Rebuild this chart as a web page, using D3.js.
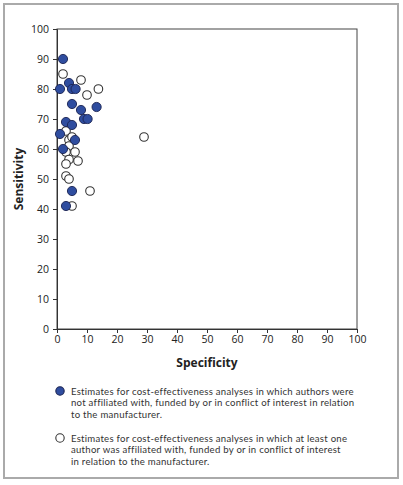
<!DOCTYPE html>
<html><head><meta charset="utf-8">
<script src="https://cdn.jsdelivr.net/npm/d3@7"></script>
<style>body{margin:0;background:#fff;}svg{display:block;font-family:"Open Sans",sans-serif;}</style>
</head><body><svg id="c" width="403" height="485"></svg>
<script>
const xTicks = [0,10,20,30,40,50,60,70,80,90,100];
const yTicks = [0,10,20,30,40,50,60,70,80,90,100];
// Not affiliated (filled)
const filledSpec = [2,1,4,5,6.2,5,8,13.2,9,10.2,3,5,1,6,2,5,3];
const filledSens = [90,80,82,80,80,75,73,74,70,70,69,68,65,63,60,46,41];
// Affiliated (open)
const openSpec = [2,8,13.8,10,29,3,4,5,4,3,6,4,7,3,3,4,11,5];
const openSens = [85,83,80,78,64,66,63,64,61,59,59,56.5,56,55,51,50,46,41];
const legendTexts = [
 ["Estimates for cost-effectiveness analyses in which authors were","not affiliated with, funded by or in conflict of interest in relation","to the manufacturer."],
 ["Estimates for cost-effectiveness analyses in which at least one","author was affiliated with, funded by or in conflict of interest","in relation to the manufacturer."]
];

const svg = d3.select("#c");
svg.append("rect").attr("x",4).attr("y",4).attr("width",394).attr("height",474)
  .attr("fill","none").attr("stroke","#aaa").attr("stroke-width",2);

const x = d3.scaleLinear().domain([0,100]).range([57,357]);
const y = d3.scaleLinear().domain([0,100]).range([329,29]);

svg.append("rect").attr("x",x(0)).attr("y",y(100)).attr("width",x(100)-x(0)).attr("height",y(0)-y(100))
  .attr("fill","none").attr("stroke","#444").attr("stroke-width",1);

const gx = svg.append("g").attr("transform",`translate(0,${y(0)})`)
  .call(d3.axisBottom(x).tickValues(xTicks).tickSize(4).tickPadding(3));
const gy = svg.append("g").attr("transform",`translate(${x(0)},0)`)
  .call(d3.axisLeft(y).tickValues(yTicks).tickSize(4).tickPadding(4));
[gx,gy].forEach(g=>{
  g.select(".domain").attr("stroke","#333");
  g.selectAll(".tick line").attr("stroke","#333");
  g.selectAll(".tick text").attr("fill","#222").style("font-size","10.5px").style("font-family","'Open Sans',sans-serif");
});

svg.append("text").attr("x",(x(0)+x(100))/2).attr("y",367).attr("text-anchor","middle")
  .style("font-size","12px").style("font-weight","bold").attr("fill","#222").text("Specificity");
svg.append("text").attr("transform",`translate(23,${(y(0)+y(100))/2}) rotate(-90)`).attr("text-anchor","middle")
  .style("font-size","12px").style("font-weight","bold").attr("fill","#222").text("Sensitivity");

const openData = openSpec.map((d,i)=>({s:d,v:openSens[i]}));
const filledData = filledSpec.map((d,i)=>({s:d,v:filledSens[i]}));

svg.append("g").selectAll("circle").data(openData).join("circle")
  .attr("cx",d=>x(d.s)).attr("cy",d=>y(d.v)).attr("r",4.3)
  .attr("fill","#fff").attr("stroke","#333").attr("stroke-width",1.1);
svg.append("g").selectAll("circle").data(filledData).join("circle")
  .attr("cx",d=>x(d.s)).attr("cy",d=>y(d.v)).attr("r",4.6)
  .attr("fill","#2f4d9f").attr("stroke","#1b2452").attr("stroke-width",0.9);

const leg = [{y:391,filled:true},{y:438,filled:false}];
leg.forEach((l,i)=>{
  svg.append("circle").attr("cx",60).attr("cy",l.y).attr("r",4.2)
    .attr("fill",l.filled?"#2f4d9f":"#fff").attr("stroke",l.filled?"#1b2452":"#333").attr("stroke-width",1.1);
  const t = svg.append("text").attr("fill","#333").style("font-size","9.6px").style("font-family","Lato,sans-serif")
    .style("letter-spacing","0.25px");
  legendTexts[i].forEach((line,j)=>{
    t.append("tspan").attr("x",71).attr("y",l.y+3.5+j*11.5).text(line);
  });
});
</script></body></html>
